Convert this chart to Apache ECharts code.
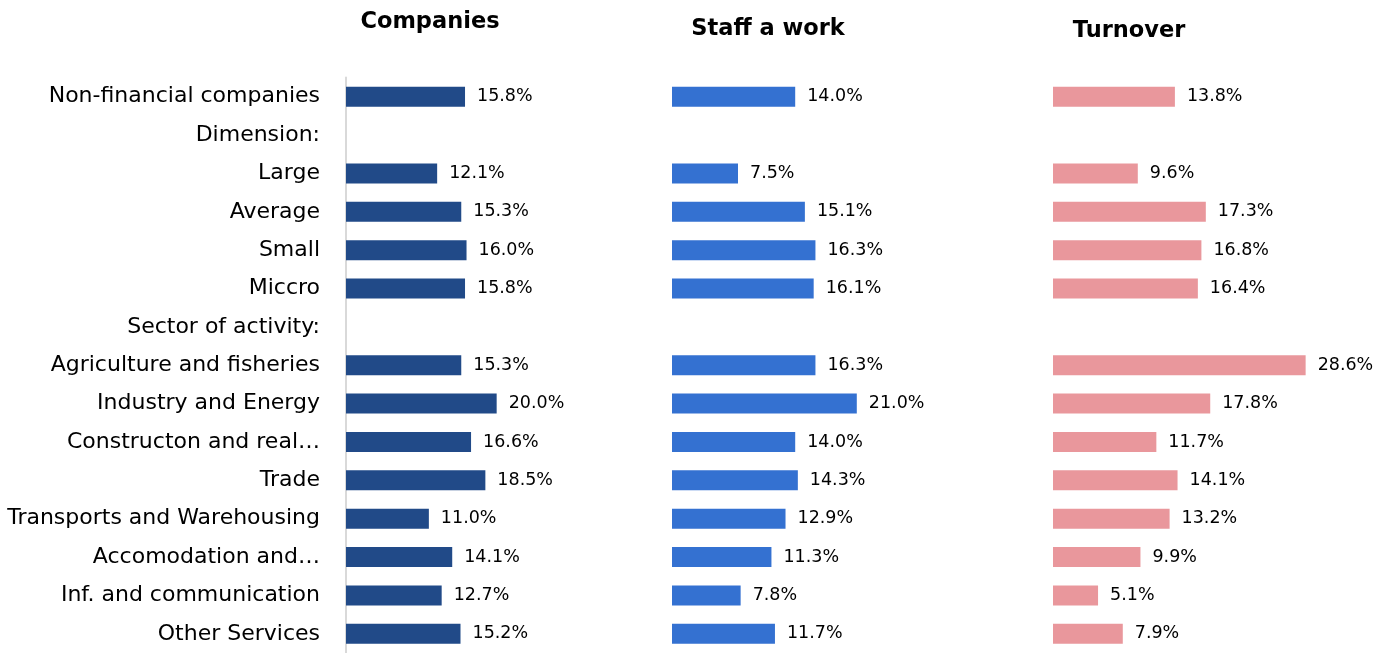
<!DOCTYPE html>
<html>
<head>
<meta charset="utf-8">
<script src="https://cdn.jsdelivr.net/npm/echarts@6/dist/echarts.min.js"></script>
<style>
  html, body { margin: 0; padding: 0; background: #fff; }
  #chart { width: 1389px; height: 653px; }
</style>
</head>
<body>
<div id="chart"></div>
<script>
const categories = [
  'Non-financial companies', 'Dimension:', 'Large', 'Average', 'Small', 'Miccro',
  'Sector of activity:', 'Agriculture and fisheries', 'Industry and Energy',
  'Constructon and real…', 'Trade', 'Transports and Warehousing',
  'Accomodation and…', 'Inf. and communication', 'Other Services'
]
const companies = [15.8, null, 12.1, 15.3, 16.0, 15.8, null, 15.3, 20.0, 16.6, 18.5, 11.0, 14.1, 12.7, 15.2]
const staff = [14.0, null, 7.5, 15.1, 16.3, 16.1, null, 16.3, 21.0, 14.0, 14.3, 12.9, 11.3, 7.8, 11.7]
const turnover = [13.8, null, 9.6, 17.3, 16.8, 16.4, null, 28.6, 17.8, 11.7, 14.1, 13.2, 9.9, 5.1, 7.9]
const titles = ['Companies', 'Staff a work', 'Turnover']

let chart = echarts.init(document.getElementById('chart'))

const panels = [
  {data: companies, color: '#214a88', left: 346, width: 226},
  {data: staff, color: '#3471d1', left: 672, width: 264},
  {data: turnover, color: '#e9979c', left: 1053, width: 265}
]

const options = {
  animation: false,
  title: [
    {text: titles[0], left: 425, top: 6, textAlign: 'center'},
    {text: titles[1], left: 763, top: 13, textAlign: 'center'},
    {text: titles[2], left: 1124, top: 15, textAlign: 'center'}
  ].map(t => Object.assign(t, {
    textStyle: {fontFamily: 'DejaVu Sans', fontWeight: 'bold', fontSize: 22.5, color: '#000'}
  })),
  grid: panels.map(p => ({left: p.left, width: p.width, top: 77.5, height: 580})),
  xAxis: panels.map((p, i) => ({
    type: 'value', gridIndex: i, min: 0, max: 30,
    show: false
  })),
  yAxis: panels.map((p, i) => ({
    type: 'category', gridIndex: i, data: categories, inverse: true,
    axisLine: {show: i === 0, lineStyle: {color: '#d9d9d9', width: 2}},
    axisTick: {show: false},
    axisLabel: {
      show: i === 0, margin: 26, fontSize: 22, color: '#000', fontFamily: 'DejaVu Sans'
    }
  })),
  series: panels.map((p, i) => ({
    type: 'bar', xAxisIndex: i, yAxisIndex: i, data: p.data,
    barWidth: 20,
    itemStyle: {color: p.color},
    label: {
      show: true, position: 'right', distance: 12,
      fontSize: 17.5, color: '#000', fontFamily: 'DejaVu Sans',
      formatter: v => v.value.toFixed(1) + '%'
    }
  }))
}

chart.setOption(options)
</script>
</body>
</html>
